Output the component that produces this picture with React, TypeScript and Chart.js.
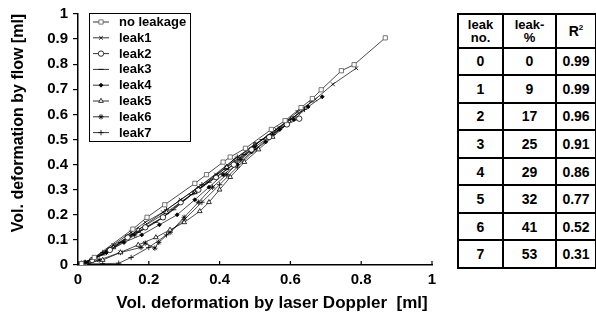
import React, { useEffect, useRef } from 'react';
import { Chart, registerables } from 'chart.js';
import { drawPoint } from 'chart.js/helpers';
Chart.register(...registerables);

const seriesNames = ['no leakage', 'leak1', 'leak2', 'leak3', 'leak4', 'leak5', 'leak6', 'leak7'];

const noLeakage: [number, number][] = [
  [0.01, 0.005], [0.046, 0.03], [0.155, 0.143], [0.195, 0.19], [0.245, 0.24], [0.33, 0.325],
  [0.363, 0.36], [0.41, 0.41], [0.43, 0.43], [0.473, 0.465], [0.546, 0.54], [0.585, 0.575],
  [0.63, 0.627], [0.662, 0.663], [0.687, 0.698], [0.744, 0.774], [0.78, 0.798], [0.868, 0.905],
];
const leak1: [number, number][] = [
  [0.01, 0.005], [0.05, 0.03], [0.1, 0.08], [0.15, 0.13], [0.19, 0.17], [0.24, 0.21], [0.29, 0.26],
  [0.34, 0.31], [0.39, 0.36], [0.44, 0.42], [0.5, 0.48], [0.56, 0.54], [0.62, 0.61], [0.67, 0.66],
  [0.72, 0.72], [0.786, 0.784],
];
const leak2: [number, number][] = [
  [0.01, 0.005], [0.04, 0.02], [0.09, 0.06], [0.14, 0.11], [0.19, 0.15], [0.24, 0.19], [0.29, 0.25],
  [0.34, 0.3], [0.39, 0.35], [0.44, 0.4], [0.49, 0.46], [0.54, 0.51], [0.59, 0.56], [0.625, 0.583],
];
const leak3: [number, number][] = [
  [0.02, 0.01], [0.07, 0.04], [0.12, 0.09], [0.17, 0.13], [0.22, 0.17], [0.27, 0.22], [0.32, 0.28],
  [0.37, 0.33], [0.42, 0.38], [0.47, 0.44], [0.52, 0.5], [0.57, 0.55], [0.61, 0.59], [0.66, 0.65],
];
const leak4: [number, number][] = [
  [0.02, 0.01], [0.08, 0.05], [0.13, 0.09], [0.18, 0.12], [0.23, 0.16], [0.28, 0.2], [0.33, 0.26],
  [0.37, 0.31], [0.41, 0.36], [0.45, 0.4], [0.49, 0.45], [0.53, 0.49], [0.57, 0.54], [0.61, 0.58],
  [0.65, 0.63], [0.69, 0.67],
];
const leak5: [number, number][] = [
  [0.02, 0.005], [0.07, 0.02], [0.12, 0.05], [0.17, 0.08], [0.22, 0.11], [0.26, 0.14], [0.3, 0.17],
  [0.344, 0.214], [0.37, 0.25], [0.4, 0.3], [0.43, 0.35], [0.47, 0.41], [0.51, 0.46], [0.55, 0.51],
  [0.59, 0.56], [0.5, 0.48], [0.42, 0.39], [0.33, 0.29], [0.25, 0.21], [0.17, 0.14], [0.1, 0.07],
  [0.04, 0.02],
];
const leak6: [number, number][] = [
  [0.01, 0.005], [0.06, 0.02], [0.12, 0.05], [0.178, 0.07], [0.19, 0.087], [0.217, 0.067],
  [0.228, 0.09], [0.26, 0.13], [0.3, 0.19], [0.34, 0.25], [0.38, 0.31], [0.42, 0.36], [0.46, 0.42],
  [0.5, 0.47], [0.42, 0.39], [0.33, 0.29], [0.24, 0.19], [0.16, 0.12], [0.08, 0.05], [0.02, 0.01],
];
const leak7: [number, number][] = [
  [0.0, 0.0], [0.03, 0.005], [0.07, 0.005], [0.115, 0.007], [0.15, 0.03], [0.2, 0.07], [0.25, 0.12],
  [0.3, 0.18], [0.35, 0.25], [0.4, 0.32], [0.45, 0.39], [0.5, 0.46], [0.55, 0.52], [0.6, 0.58],
  [0.64, 0.62], [0.55, 0.53], [0.45, 0.43], [0.35, 0.32], [0.25, 0.22], [0.15, 0.12], [0.07, 0.05],
  [0.02, 0.01],
];

const seriesData = [noLeakage, leak1, leak2, leak3, leak4, leak5, leak6, leak7];
const pointStyles = ['rect', 'crossRot', 'circle', 'line', 'rectRot', 'triangle', 'star', 'cross'];

const tableLeakNo = ['0', '1', '2', '3', '4', '5', '6', '7'];
const tableLeakPct = ['0', '9', '17', '25', '29', '32', '41', '53'];
const tableR2 = ['0.99', '0.99', '0.96', '0.91', '0.86', '0.77', '0.52', '0.31'];

const FONT = "'Liberation Sans', Arial, Helvetica, sans-serif";

const fmtTick = (v: any) => String(Number(Number(v).toFixed(1)));

const decorPlugin = {
  id: 'decor',
  afterDraw(chart: any) {
    const ctx = chart.ctx as CanvasRenderingContext2D;
    const xs = chart.scales.x;
    const area = chart.chartArea;
    ctx.save();
    // inside x ticks
    ctx.strokeStyle = '#000';
    ctx.lineWidth = 1.2;
    xs.ticks.forEach((t: any) => {
      const px = xs.getPixelForValue(t.value);
      ctx.beginPath();
      ctx.moveTo(px, area.bottom);
      ctx.lineTo(px, area.bottom - 4);
      ctx.stroke();
    });
    // titles
    ctx.fillStyle = '#000';
    ctx.font = `bold 17px ${FONT}`;
    ctx.textAlign = 'center';
    ctx.textBaseline = 'middle';
    ctx.fillText('Vol. deformation by laser Doppler  [ml]', 272, 303);
    ctx.save();
    ctx.translate(19, 123);
    ctx.rotate(-Math.PI / 2);
    ctx.font = `bold 16px ${FONT}`;
    ctx.fillText('Vol. deformation by flow [ml]', 0, 0);
    ctx.restore();
    // legend box
    ctx.fillStyle = '#fff';
    ctx.fillRect(89.5, 13.5, 101, 128);
    ctx.strokeStyle = '#000';
    ctx.lineWidth = 1;
    ctx.strokeRect(89.5, 13.5, 101, 128);
    chart.data.datasets.forEach((ds: any, i: number) => {
      const y = 22 + i * 15.8;
      ctx.beginPath();
      ctx.strokeStyle = '#000';
      ctx.lineWidth = 0.8;
      ctx.moveTo(93, y);
      ctx.lineTo(109, y);
      ctx.stroke();
      ctx.fillStyle = ds.pointBackgroundColor;
      ctx.strokeStyle = ds.pointBorderColor;
      ctx.lineWidth = 0.8;
      drawPoint(ctx, { pointStyle: ds.pointStyle, radius: ds.pointRadius, borderWidth: 0.8, rotation: 0 } as any, 101, y);
      ctx.fillStyle = '#000';
      ctx.font = `bold 13px ${FONT}`;
      ctx.textAlign = 'left';
      ctx.textBaseline = 'middle';
      ctx.fillText(ds.label, 119, y + 0.5);
    });
    ctx.restore();
  },
};

function ChartView() {
  const ref = useRef<HTMLCanvasElement>(null);
  useEffect(() => {
    if (!ref.current) return;
    const datasets = seriesNames.map((name, i) => ({
      label: name,
      data: seriesData[i].map(([x, y]) => ({ x, y })),
      showLine: true,
      borderColor: '#000',
      borderWidth: 0.7,
      pointStyle: pointStyles[i],
      pointRadius: i === 0 ? 3 : i === 4 ? 2 : 2.7,
      pointBorderWidth: 0.8,
      pointBackgroundColor: i === 4 ? '#000' : '#fff',
      pointBorderColor: i === 0 ? '#555' : '#000',
    }));
    const chart = new Chart(ref.current, {
      type: 'scatter',
      data: { datasets },
      options: {
        animation: false,
        responsive: false,
        maintainAspectRatio: false,
        layout: { padding: { top: 13, right: 164, left: 0, bottom: 0 } },
        plugins: { legend: { display: false }, tooltip: { enabled: false } },
        scales: {
          x: {
            type: 'linear',
            min: 0,
            max: 1,
            afterFit: (s: any) => { s.height = 59; },
            grid: { display: true, drawOnChartArea: false, drawTicks: false, color: '#000' },
            border: { display: true, color: '#000', width: 1.5 },
            ticks: { stepSize: 0.2, padding: 6, color: '#000', callback: fmtTick, font: { family: FONT, size: 15, weight: 'bold' } },
          },
          y: {
            type: 'linear',
            min: 0,
            max: 1,
            afterFit: (s: any) => { s.width = 78; },
            grid: { display: true, drawOnChartArea: false, drawTicks: true, tickLength: 5, color: '#000', lineWidth: 1.2 },
            border: { display: true, color: '#000', width: 1.5 },
            ticks: { stepSize: 0.1, padding: 5, color: '#000', callback: fmtTick, font: { family: FONT, size: 15, weight: 'bold' } },
          },
        },
      },
      plugins: [decorPlugin],
    } as any);
    return () => chart.destroy();
  }, []);
  return <canvas ref={ref} width={596} height={324} style={{ position: 'absolute', left: 0, top: 0, width: 596, height: 324 }} />;
}

function DataTable() {
  const cell: React.CSSProperties = {
    border: '2px solid #000',
    textAlign: 'center',
    verticalAlign: 'middle',
    padding: 0,
    fontFamily: FONT,
    fontWeight: 'bold',
    fontSize: 14,
    height: 25,
  };
  return (
    <table
      style={{
        position: 'absolute',
        left: 457,
        top: 13,
        width: 138,
        height: 256,
        borderCollapse: 'collapse',
        tableLayout: 'fixed',
        background: '#fff',
      }}
    >
      <colgroup>
        <col style={{ width: 45 }} />
        <col style={{ width: 53 }} />
        <col style={{ width: 40 }} />
      </colgroup>
      <tbody>
        <tr>
          <td style={{ ...cell, height: 31, fontSize: 13, lineHeight: '13px' }}>leak<br />no.</td>
          <td style={{ ...cell, height: 31, fontSize: 13, lineHeight: '13px' }}>leak-<br />%</td>
          <td style={{ ...cell, height: 31, fontSize: 14 }}>R<sup style={{ fontSize: 8 }}>2</sup></td>
        </tr>
        {tableLeakNo.map((n, i) => (
          <tr key={n}>
            <td style={cell}>{n}</td>
            <td style={cell}>{tableLeakPct[i]}</td>
            <td style={cell}>{tableR2[i]}</td>
          </tr>
        ))}
      </tbody>
    </table>
  );
}

export default function App() {
  return (
    <div style={{ position: 'fixed', left: 0, top: 0, width: 596, height: 324, background: '#fff' }}>
      <ChartView />
      <DataTable />
    </div>
  );
}
